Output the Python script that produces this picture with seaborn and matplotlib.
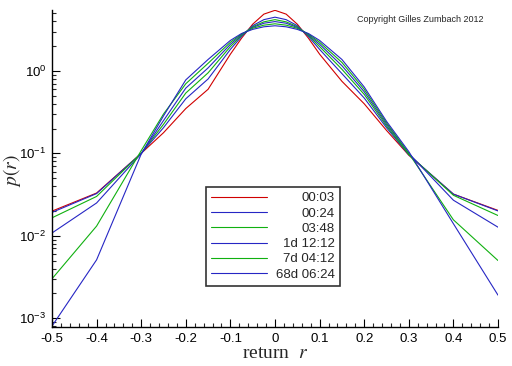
import matplotlib
matplotlib.use("Agg")
import matplotlib.pyplot as plt
import seaborn as sns
import numpy as np
import pandas as pd
from matplotlib.ticker import MultipleLocator, LogLocator

# return grid and densities
r_vals = [-0.5, -0.4, -0.3, -0.25, -0.2, -0.15, -0.1, -0.075, -0.05, -0.025, 0.0,
          0.025, 0.05, 0.075, 0.1, 0.15, 0.2, 0.25, 0.3, 0.4, 0.5]
horizons = ["00:03", "00:24", "03:48", "1d 12:12", "7d 04:12", "68d 06:24"]
colors = ["#d00000", "#2626c4", "#10b010", "#2626c4", "#10b010", "#2626c4"]

p_0003 = [0.0199, 0.033, 0.100, 0.178, 0.35, 0.60, 1.6, 2.5, 3.7, 4.9, 5.45,
          4.9, 3.7, 2.5, 1.6, 0.75, 0.40, 0.19, 0.095, 0.032, 0.0203]
p_0024 = [0.0192, 0.0325, 0.100, 0.205, 0.46, 0.80, 1.83, 2.62, 3.55, 4.2, 4.5,
          4.2, 3.55, 2.62, 1.83, 0.93, 0.47, 0.205, 0.096, 0.032, 0.0200]
p_0348 = [0.0165, 0.030, 0.100, 0.225, 0.54, 0.95, 1.98, 2.70, 3.45, 3.95, 4.2,
          3.95, 3.45, 2.70, 1.98, 1.05, 0.52, 0.215, 0.097, 0.031, 0.0176]
p_1d = [0.0108, 0.025, 0.099, 0.25, 0.62, 1.09, 2.11, 2.76, 3.38, 3.8, 3.98,
        3.8, 3.38, 2.76, 2.11, 1.16, 0.56, 0.225, 0.100, 0.027, 0.0127]
p_7d = [0.0030, 0.0131, 0.108, 0.30, 0.70, 1.24, 2.23, 2.81, 3.30, 3.6, 3.74,
        3.6, 3.30, 2.81, 2.23, 1.27, 0.60, 0.235, 0.100, 0.0156, 0.0050]
p_68d = [0.0008, 0.0051, 0.098, 0.285, 0.78, 1.38, 2.35, 2.85, 3.20, 3.44, 3.54,
         3.44, 3.20, 2.85, 2.35, 1.38, 0.64, 0.245, 0.105, 0.014, 0.0019]

series = [p_0003, p_0024, p_0348, p_1d, p_7d, p_68d]
frames = []
for name, vals in zip(horizons, series):
    frames.append(pd.DataFrame({"r": r_vals, "p": vals, "horizon": name}))
df = pd.concat(frames, ignore_index=True)

sns.set_style("ticks")
plt.rcParams["font.family"] = ["Liberation Sans", "DejaVu Sans"]
plt.rcParams["mathtext.fontset"] = "stix"

fig = plt.figure(figsize=(5.12, 3.66), dpi=100)
ax = fig.add_axes([52 / 512, 1 - 327 / 366, 446 / 512, 317 / 366])

sns.lineplot(data=df, x="r", y="p", hue="horizon", hue_order=horizons,
             palette=colors, linewidth=0.8, ax=ax, sort=False)

ax.set_yscale("log")
ax.set_xlim(-0.5, 0.5)
ax.set_ylim(7.8e-4, 5.5)

ax.xaxis.set_minor_locator(MultipleLocator(0.02))
ax.yaxis.set_major_locator(LogLocator(base=10))
ax.yaxis.set_minor_locator(LogLocator(base=10, subs=np.arange(2, 10)))
ax.set_xticks(np.round(np.arange(-0.5, 0.51, 0.1), 1))
ax.set_xticklabels(["-0.5", "-0.4", "-0.3", "-0.2", "-0.1", "0",
                    "0.1", "0.2", "0.3", "0.4", "0.5"])

ax.spines[["top", "right"]].set_visible(False)
for s in ["left", "bottom"]:
    ax.spines[s].set_linewidth(1.0)
    ax.spines[s].set_color("black")
ax.tick_params(which="major", direction="in", length=6, width=0.8,
               labelsize=9.5, colors="black")
ax.tick_params(which="minor", direction="in", length=3, width=0.8)
ax.tick_params(axis="x", pad=4)
ax.tick_params(axis="y", pad=4)

ax.set_xlabel("return  $r$", family="Liberation Serif", fontsize=14, labelpad=0)
ax.set_ylabel("$p(r)$", fontsize=14)
ax.yaxis.set_label_coords(-0.064, 0.495)

handles, labels = ax.get_legend_handles_labels()
leg = ax.legend(handles, labels, loc="upper left", bbox_to_anchor=(0.345, 0.442),
                borderaxespad=0, frameon=True, fancybox=False, fontsize=9.5,
                handlelength=4.2, handletextpad=0.7, labelspacing=0.23,
                borderpad=0.4)
leg.get_frame().set_edgecolor("black")
leg.get_frame().set_linewidth(1.2)
for line in leg.get_lines():
    line.set_linewidth(0.8)

# right-align legend labels inside the column
fig.canvas.draw()
texts = leg.get_texts()
widths = [t.get_window_extent().width for t in texts]
w = max(widths)
for t, tw in zip(texts, widths):
    t.set_position((w - tw, 0))

fig.text(357 / 512, 1 - 19 / 366, "Copyright Gilles Zumbach 2012",
         fontsize=6.5, va="center", ha="left")

fig.savefig("out.png", dpi=100)
